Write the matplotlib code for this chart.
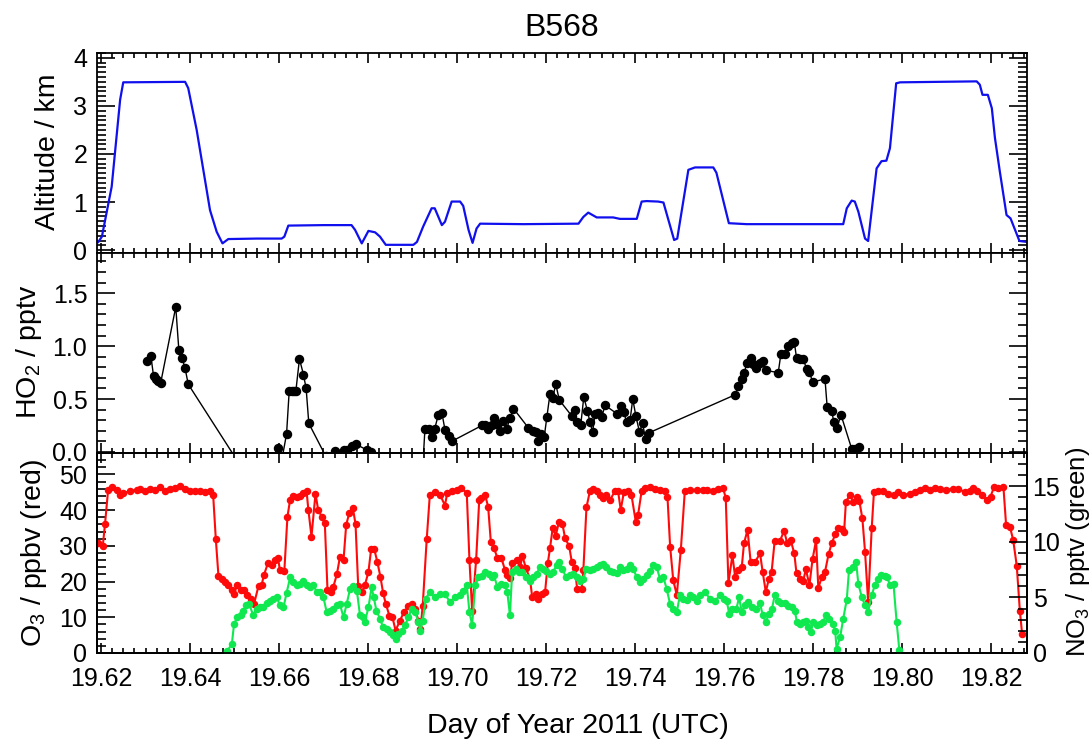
import matplotlib
matplotlib.use("Agg")
import matplotlib.pyplot as plt
from matplotlib.ticker import MultipleLocator, FixedLocator

plt.rcParams['font.family'] = ['Liberation Sans', 'DejaVu Sans']
plt.rcParams['mathtext.fontset'] = 'custom'
plt.rcParams['mathtext.rm'] = 'Liberation Sans'
plt.rcParams['mathtext.it'] = 'Liberation Sans:italic'

# ---------------- data ----------------
alt_day = [19.6194, 19.6202, 19.6224, 19.6243, 19.6250, 19.6389, 19.6396, 19.6415, 19.6445, 19.6460,
           19.6473, 19.6486, 19.6550, 19.6606, 19.6612, 19.6621, 19.6700, 19.6763, 19.6771, 19.6786,
           19.6801, 19.6816, 19.6827, 19.6840, 19.6902, 19.6910, 19.6924, 19.6943, 19.6950, 19.6966,
           19.6973, 19.6988, 19.7007, 19.7014, 19.7026, 19.7035, 19.7044, 19.7052, 19.7149, 19.7273,
           19.7284, 19.7295, 19.7314, 19.7351, 19.7366, 19.7404, 19.7415, 19.7426, 19.7452, 19.7464,
           19.7488, 19.7495, 19.7520, 19.7535, 19.7576, 19.7583, 19.7611, 19.7651, 19.7868, 19.7876,
           19.7887, 19.7894, 19.7902, 19.7917, 19.7924, 19.7943, 19.7954, 19.7965, 19.7973, 19.7987,
           19.7996, 19.8168, 19.8175, 19.8181, 19.8193, 19.8202, 19.8209, 19.8220, 19.8235, 19.8244,
           19.8264, 19.8281]
alt_km = [0.17, 0.28, 1.32, 3.13, 3.49, 3.50, 3.37, 2.50, 0.83, 0.38,
          0.14, 0.23, 0.24, 0.24, 0.28, 0.51, 0.52, 0.52, 0.42, 0.14,
          0.40, 0.37, 0.28, 0.11, 0.11, 0.17, 0.49, 0.87, 0.87, 0.52,
          0.59, 1.01, 1.01, 0.92, 0.42, 0.15, 0.45, 0.55, 0.54, 0.55,
          0.69, 0.78, 0.68, 0.68, 0.65, 0.65, 1.01, 1.02, 1.01, 0.99,
          0.21, 0.24, 1.67, 1.72, 1.72, 1.61, 0.56, 0.54, 0.54, 0.87,
          1.03, 1.01, 0.80, 0.24, 0.19, 1.70, 1.85, 1.86, 2.12, 3.47,
          3.49, 3.51, 3.44, 3.23, 3.23, 2.95, 2.33, 1.63, 0.73, 0.66,
          0.19, 0.17]

ho2_day = [19.6304, 19.6312, 19.6318, 19.6323, 19.6329, 19.6334, 19.6368, 19.6375, 19.6382, 19.6389,
           19.6396, 19.6515, 19.6592, 19.6598, 19.6607, 19.6617, 19.6623, 19.6629, 19.6633, 19.6638,
           19.6646, 19.6655, 19.6661, 19.6667, 19.6705, 19.6726, 19.6745, 19.6752, 19.6763, 19.6772,
           19.6797, 19.6806, 19.6812, 19.6921, 19.6928, 19.6936, 19.6943, 19.6950, 19.6958, 19.6966,
           19.6973, 19.6981, 19.6988, 19.7056, 19.7063, 19.7070, 19.7078, 19.7083, 19.7091, 19.7097,
           19.7104, 19.7112, 19.7119, 19.7127, 19.7160, 19.7170, 19.7178, 19.7183, 19.7188, 19.7196,
           19.7202, 19.7209, 19.7215, 19.7222, 19.7230, 19.7258, 19.7265, 19.7270, 19.7278, 19.7285,
           19.7293, 19.7299, 19.7305, 19.7310, 19.7318, 19.7325, 19.7333, 19.7360, 19.7368, 19.7375,
           19.7381, 19.7389, 19.7395, 19.7402, 19.7410, 19.7417, 19.7424, 19.7431, 19.7625, 19.7632,
           19.7640, 19.7646, 19.7651, 19.7660, 19.7666, 19.7673, 19.7681, 19.7688, 19.7694, 19.7722,
           19.7728, 19.7737, 19.7744, 19.7752, 19.7758, 19.7763, 19.7771, 19.7778, 19.7786, 19.7792,
           19.7799, 19.7827, 19.7832, 19.7842, 19.7847, 19.7854, 19.7863, 19.7887, 19.7894, 19.7903]
ho2_pptv = [0.86, 0.91, 0.72, 0.69, 0.67, 0.65, 1.37, 0.96, 0.89, 0.79,
            0.64, -0.14, -0.40, 0.04, -0.06, 0.17, 0.58, 0.58, 0.58, 0.58,
            0.88, 0.73, 0.60, 0.27, -0.04, 0.01, 0.02, 0.02, 0.06, 0.075,
            0.02, 0.00, -0.30, -0.30, 0.22, 0.22, 0.14, 0.22, 0.35, 0.37,
            0.21, 0.15, 0.10, 0.25, 0.25, 0.22, 0.25, 0.32, 0.26, 0.20,
            0.29, 0.22, 0.32, 0.41, 0.23, 0.20, 0.19, 0.10, 0.17, 0.14,
            0.33, 0.55, 0.51, 0.64, 0.49, 0.34, 0.40, 0.28, 0.25, 0.52,
            0.39, 0.28, 0.19, 0.36, 0.37, 0.33, 0.44, 0.36, 0.43, 0.38,
            0.28, 0.30, 0.50, 0.34, 0.19, 0.27, 0.12, 0.18, 0.54, 0.62,
            0.69, 0.75, 0.84, 0.89, 0.83, 0.79, 0.84, 0.86, 0.77, 0.75,
            0.93, 0.93, 1.00, 1.03, 1.04, 0.89, 0.88, 0.88, 0.78, 0.76,
            0.66, 0.69, 0.42, 0.39, 0.28, 0.23, 0.35, 0.03, 0.03, 0.05]

o3_day = [19.6194, 19.6204, 19.6209, 19.6216, 19.6224, 19.6235, 19.6243, 19.6250, 19.6265, 19.6280,
          19.6288, 19.6299, 19.6310, 19.6321, 19.6333, 19.6344, 19.6355, 19.6366, 19.6378, 19.6389,
          19.6400, 19.6411, 19.6422, 19.6434, 19.6445, 19.6452, 19.6458, 19.6464, 19.6471, 19.6479,
          19.6486, 19.6494, 19.6499, 19.6506, 19.6514, 19.6521, 19.6529, 19.6536, 19.6544, 19.6554,
          19.6561, 19.6566, 19.6575, 19.6584, 19.6591, 19.6598, 19.6602, 19.6612, 19.6619, 19.6625,
          19.6632, 19.6640, 19.6647, 19.6655, 19.6662, 19.6666, 19.6673, 19.6682, 19.6688, 19.6696,
          19.6703, 19.6709, 19.6716, 19.6722, 19.6730, 19.6737, 19.6745, 19.6751, 19.6758, 19.6766,
          19.6772, 19.6778, 19.6786, 19.6793, 19.6801, 19.6807, 19.6814, 19.6821, 19.6828, 19.6834,
          19.6840, 19.6848, 19.6855, 19.6862, 19.6872, 19.6881, 19.6891, 19.6898, 19.6906, 19.6913,
          19.6918, 19.6923, 19.6932, 19.6939, 19.6950, 19.6962, 19.6973, 19.6978, 19.6988, 19.6999,
          19.7010, 19.7022, 19.7028, 19.7034, 19.7043, 19.7050, 19.7055, 19.7063, 19.7070, 19.7076,
          19.7083, 19.7091, 19.7100, 19.7108, 19.7113, 19.7119, 19.7124, 19.7134, 19.7142, 19.7147,
          19.7155, 19.7164, 19.7169, 19.7177, 19.7183, 19.7190, 19.7198, 19.7204, 19.7209, 19.7215,
          19.7222, 19.7229, 19.7237, 19.7243, 19.7252, 19.7258, 19.7265, 19.7270, 19.7280, 19.7284,
          19.7291, 19.7299, 19.7306, 19.7314, 19.7321, 19.7329, 19.7336, 19.7344, 19.7355, 19.7362,
          19.7368, 19.7375, 19.7385, 19.7392, 19.7402, 19.7407, 19.7415, 19.7422, 19.7434, 19.7445,
          19.7456, 19.7467, 19.7473, 19.7479, 19.7486, 19.7494, 19.7503, 19.7512, 19.7524, 19.7539,
          19.7553, 19.7561, 19.7576, 19.7587, 19.7598, 19.7604, 19.7610, 19.7619, 19.7625, 19.7632,
          19.7640, 19.7645, 19.7653, 19.7660, 19.7670, 19.7681, 19.7687, 19.7694, 19.7701, 19.7707,
          19.7714, 19.7726, 19.7735, 19.7742, 19.7750, 19.7758, 19.7763, 19.7771, 19.7778, 19.7784,
          19.7792, 19.7799, 19.7807, 19.7812, 19.7820, 19.7827, 19.7835, 19.7842, 19.7850, 19.7857,
          19.7865, 19.7870, 19.7874, 19.7883, 19.7891, 19.7898, 19.7904, 19.7911, 19.7917, 19.7924,
          19.7932, 19.7937, 19.7947, 19.7958, 19.7969, 19.7981, 19.7992, 19.8003, 19.8018, 19.8029,
          19.8040, 19.8052, 19.8063, 19.8074, 19.8085, 19.8100, 19.8115, 19.8126, 19.8141, 19.8153,
          19.8160, 19.8168, 19.8179, 19.8190, 19.8199, 19.8207, 19.8216, 19.8228, 19.8234, 19.8243,
          19.8250, 19.8258, 19.8265, 19.8270]
o3_ppbv = [30.9, 30.0, 36.1, 45.7, 46.4, 45.7, 44.3, 44.8, 45.3, 45.7,
           46.0, 45.4, 46.0, 45.7, 46.4, 45.5, 46.0, 46.2, 46.7, 46.0,
           45.5, 45.3, 45.4, 45.1, 45.3, 44.3, 31.9, 21.5, 20.8, 19.9,
           19.0, 17.6, 16.6, 19.0, 17.6, 17.6, 16.2, 15.2, 13.8, 18.8,
           19.0, 21.8, 25.1, 24.6, 26.0, 26.5, 23.2, 23.0, 38.2, 42.9,
           44.0, 43.7, 44.1, 44.8, 45.3, 40.1, 32.6, 44.6, 40.1, 38.2,
           36.3, 17.6, 17.1, 18.5, 22.0, 26.9, 26.0, 35.9, 39.2, 40.6,
           36.1, 18.7, 17.1, 19.0, 22.7, 29.0, 29.1, 25.5, 21.3, 16.8,
           13.8, 10.5, 10.0, 6.3, 9.1, 11.5, 13.1, 13.6, 12.4, 9.1,
           6.8, 13.3, 31.9, 44.3, 45.0, 44.3, 41.3, 44.8, 45.3, 45.7,
           46.2, 44.8, 26.0, 11.9, 26.0, 42.9, 43.4, 44.3, 41.0, 31.2,
           29.5, 26.5, 26.5, 23.2, 21.8, 21.0, 25.1, 26.0, 24.1, 27.2,
           23.7, 20.8, 15.7, 16.6, 15.2, 16.6, 17.1, 25.1, 29.3, 34.9,
           32.9, 36.6, 36.1, 32.1, 30.0, 25.5, 23.8, 18.0, 18.0, 23.2,
           40.8, 45.5, 46.0, 45.3, 44.3, 43.4, 44.3, 42.9, 45.3, 45.3,
           40.1, 45.0, 45.4, 44.3, 36.6, 38.7, 45.4, 46.2, 46.4, 46.0,
           45.7, 45.4, 43.8, 29.8, 20.4, 16.2, 28.8, 45.3, 45.7, 45.7,
           45.7, 45.7, 45.5, 46.0, 46.2, 43.4, 19.6, 27.4, 21.3, 23.2,
           24.1, 30.7, 34.5, 25.4, 25.5, 27.9, 22.7, 17.1, 20.8, 22.7,
           31.4, 31.4, 34.2, 30.9, 31.6, 27.9, 22.3, 20.8, 20.1, 23.5,
           19.0, 26.2, 31.6, 18.2, 21.3, 22.7, 27.6, 30.7, 33.2, 34.9,
           34.6, 34.0, 42.3, 44.3, 42.3, 43.6, 42.7, 37.7, 28.4, 14.3,
           34.9, 45.0, 45.3, 45.5, 44.6, 44.3, 45.0, 44.3, 44.6, 45.1,
           45.7, 46.2, 45.7, 46.2, 46.0, 45.7, 46.0, 46.0, 45.1, 45.5,
           46.2, 45.3, 44.3, 42.9, 43.8, 46.5, 46.2, 46.5, 35.9, 35.2,
           31.6, 24.4, 11.7, 5.4]

no3_day = [19.6484, 19.6494, 19.6499, 19.6506, 19.6514, 19.6520, 19.6526, 19.6533, 19.6542, 19.6550,
           19.6557, 19.6565, 19.6572, 19.6580, 19.6587, 19.6595, 19.6602, 19.6610, 19.6617, 19.6625,
           19.6632, 19.6640, 19.6647, 19.6655, 19.6662, 19.6670, 19.6677, 19.6685, 19.6692, 19.6700,
           19.6707, 19.6715, 19.6722, 19.6730, 19.6737, 19.6745, 19.6752, 19.6760, 19.6767, 19.6775,
           19.6782, 19.6789, 19.6793, 19.6801, 19.6808, 19.6813, 19.6819, 19.6827, 19.6834, 19.6842,
           19.6849, 19.6857, 19.6863, 19.6868, 19.6876, 19.6883, 19.6891, 19.6898, 19.6906, 19.6913,
           19.6918, 19.6923, 19.6930, 19.6939, 19.6950, 19.6962, 19.6973, 19.6984, 19.6995, 19.7007,
           19.7014, 19.7022, 19.7028, 19.7034, 19.7041, 19.7048, 19.7056, 19.7063, 19.7071, 19.7078,
           19.7083, 19.7091, 19.7100, 19.7108, 19.7113, 19.7119, 19.7124, 19.7132, 19.7139, 19.7147,
           19.7155, 19.7164, 19.7171, 19.7179, 19.7186, 19.7194, 19.7201, 19.7209, 19.7216, 19.7224,
           19.7230, 19.7237, 19.7245, 19.7254, 19.7261, 19.7269, 19.7276, 19.7284, 19.7291, 19.7299,
           19.7306, 19.7314, 19.7321, 19.7329, 19.7336, 19.7344, 19.7351, 19.7359, 19.7366, 19.7374,
           19.7381, 19.7389, 19.7396, 19.7404, 19.7411, 19.7419, 19.7426, 19.7434, 19.7441, 19.7449,
           19.7456, 19.7464, 19.7471, 19.7479, 19.7486, 19.7494, 19.7501, 19.7509, 19.7516, 19.7524,
           19.7531, 19.7539, 19.7546, 19.7557, 19.7568, 19.7580, 19.7591, 19.7600, 19.7606, 19.7612,
           19.7619, 19.7628, 19.7634, 19.7640, 19.7647, 19.7655, 19.7662, 19.7673, 19.7681, 19.7687,
           19.7694, 19.7701, 19.7708, 19.7714, 19.7722, 19.7729, 19.7737, 19.7744, 19.7752, 19.7759,
           19.7764, 19.7771, 19.7778, 19.7784, 19.7789, 19.7795, 19.7801, 19.7808, 19.7816, 19.7823,
           19.7829, 19.7837, 19.7844, 19.7850, 19.7853, 19.7861, 19.7868, 19.7876, 19.7881, 19.7889,
           19.7897, 19.7902, 19.7910, 19.7917, 19.7924, 19.7932, 19.7939, 19.7947, 19.7954, 19.7962,
           19.7967, 19.7973, 19.7981, 19.7988, 19.7994]
no3_pptv = [0.2, 0.8, 2.6, 3.2, 3.4, 3.8, 4.3, 4.4, 3.4, 4.0,
            4.1, 4.1, 4.5, 4.7, 4.9, 5.0, 4.3, 4.1, 5.4, 6.8,
            6.4, 6.1, 6.2, 6.5, 6.1, 5.9, 6.1, 5.5, 5.5, 5.0,
            3.7, 3.8, 4.0, 4.3, 4.4, 3.2, 4.4, 5.8, 6.0, 5.6,
            3.4, 3.2, 2.8, 4.1, 5.9, 5.0, 3.8, 3.1, 2.3, 2.2,
            1.9, 1.6, 1.3, 1.7, 2.0, 2.5, 3.2, 4.0, 3.7, 2.8,
            2.0, 2.9, 4.9, 5.5, 5.0, 5.3, 5.3, 4.6, 5.0, 5.2,
            5.6, 6.1, 3.7, 2.5, 6.1, 6.8, 6.9, 7.3, 7.1, 6.8,
            7.0, 5.9, 6.2, 6.1, 5.5, 3.4, 7.3, 7.6, 7.3, 7.3,
            6.8, 6.5, 6.8, 7.1, 7.7, 7.6, 7.4, 7.1, 7.3, 7.9,
            8.2, 7.6, 6.8, 7.0, 7.1, 6.8, 6.5, 6.7, 7.6, 7.5,
            7.6, 7.7, 7.9, 8.0, 7.7, 7.4, 7.3, 7.2, 7.7, 7.5,
            7.6, 7.9, 7.6, 6.8, 6.4, 6.7, 7.0, 7.4, 7.9, 7.7,
            6.7, 6.8, 5.8, 4.4, 4.0, 3.7, 5.2, 4.9, 4.8, 5.2,
            5.0, 4.7, 5.2, 5.5, 4.9, 4.7, 5.2, 4.9, 4.7, 3.5,
            4.0, 4.0, 5.0, 3.7, 4.3, 4.6, 4.1, 4.0, 4.5, 3.4,
            2.8, 3.5, 4.0, 5.2, 4.7, 4.5, 4.5, 4.2, 4.1, 3.8,
            2.8, 2.6, 2.8, 2.9, 2.3, 1.9, 2.8, 2.5, 2.6, 2.8,
            3.4, 3.1, 2.6, 2.0, 0.4, 1.4, 3.1, 4.8, 7.5, 7.7,
            8.2, 6.2, 5.0, 4.3, 3.7, 5.2, 6.1, 6.7, 7.0, 6.9,
            6.8, 6.1, 6.2, 2.8, 0.3]

x_ticks = [19.62, 19.64, 19.66, 19.68, 19.70, 19.72, 19.74, 19.76, 19.78, 19.80, 19.82]
x_labels = ['19.62', '19.64', '19.66', '19.68', '19.70', '19.72', '19.74', '19.76', '19.78', '19.80', '19.82']

# ---------------- figure ----------------
W, H = 1092, 742
fig = plt.figure(figsize=(W / 100, H / 100), dpi=100)

def frac_rect(x0, y0, x1, y1):
    return [x0 / W, 1 - y1 / H, (x1 - x0) / W, (y1 - y0) / H]

ax1 = fig.add_axes(frac_rect(97, 53, 1027, 253))
ax2 = fig.add_axes(frac_rect(97, 253, 1027, 453))
ax3 = fig.add_axes(frac_rect(97, 453, 1027, 653))
ax3b = ax3.twinx()

TICK_FS = 18
LAB_FS = 20.5
XLIM = (19.6191, 19.8281)

for ax in (ax1, ax2, ax3, ax3b):
    ax.set_xlim(*XLIM)
    for s in ax.spines.values():
        s.set_linewidth(1.3)

for ax in (ax1, ax2, ax3):
    ax.xaxis.set_major_locator(FixedLocator(x_ticks))
    ax.xaxis.set_minor_locator(MultipleLocator(0.0025))
    ax.tick_params(axis='x', which='both', direction='in', top=True, bottom=True)
    ax.tick_params(axis='x', which='major', length=7, width=1.2)
    ax.tick_params(axis='x', which='minor', length=3.5, width=1.2)
    ax.tick_params(axis='y', which='both', direction='in', width=1.2, labelsize=TICK_FS, pad=7)
    ax.tick_params(axis='y', which='major', length=13)
    ax.tick_params(axis='y', which='minor', length=6.5)

for ax in (ax1, ax2):
    ax.tick_params(axis='y', which='both', right=True, left=True)
    ax.tick_params(axis='x', labelbottom=False)

# top panel
ax1.plot(alt_day, alt_km, color='#1010ee', lw=1.6)
ax1.set_ylim(-0.06, 4.10)
ax1.yaxis.set_major_locator(MultipleLocator(1))
ax1.yaxis.set_minor_locator(MultipleLocator(0.1))

# middle panel
ax2.plot(ho2_day, ho2_pptv, color='black', lw=1.0, marker='o', ms=5.8)
ax2.set_ylim(-0.01, 1.88)
ax2.yaxis.set_major_locator(FixedLocator([0.0, 0.5, 1.0, 1.5]))
ax2.yaxis.set_minor_locator(MultipleLocator(0.1))
ax2.set_yticklabels(['0.0', '0.5', '1.0', '1.5'])

# bottom panel
ax3.plot(o3_day, o3_ppbv, color='#ff0a0a', lw=1.5, marker='o', ms=4.4)
ax3.set_ylim(0, 56)
ax3.yaxis.set_major_locator(MultipleLocator(10))
ax3.yaxis.set_minor_locator(MultipleLocator(2))
ax3.tick_params(axis='y', which='both', right=False, left=True)
ax3.set_xticks(x_ticks)
ax3.set_xticklabels(x_labels)
ax3.tick_params(axis='x', which='major', labelsize=TICK_FS, pad=10)

ax3b.plot(no3_day, no3_pptv, color='#10e850', lw=1.5, marker='o', ms=4.4)
ax3b.set_ylim(0, 18)
ax3b.yaxis.set_major_locator(MultipleLocator(5))
ax3b.yaxis.set_minor_locator(MultipleLocator(1))
ax3b.tick_params(axis='y', which='both', direction='in', width=1.2, labelsize=TICK_FS, pad=4,
                 right=True, left=False)
ax3b.tick_params(axis='y', which='major', length=13)
ax3b.tick_params(axis='y', which='minor', length=6.5)
ax3b.tick_params(axis='x', which='both', top=False, bottom=False)

# labels
fig.text(562 / W, 1 - 28 / H, 'B568', ha='center', va='center', fontsize=23)
fig.text(578 / W, 1 - 726 / H, 'Day of Year 2011 (UTC)', ha='center', va='center', fontsize=LAB_FS)
fig.text(48 / W, 1 - 152 / H, 'Altitude / km', rotation=90, ha='center', va='center', fontsize=LAB_FS)
fig.text(29 / W, 1 - 352 / H, r'HO$_2$ / pptv', rotation=90, ha='center', va='center', fontsize=LAB_FS)
fig.text(34 / W, 1 - 553 / H, r'O$_3$ / ppbv (red)', rotation=90, ha='center', va='center', fontsize=LAB_FS)
fig.text(1077.5 / W, 1 - 552 / H, r'NO$_3$ / pptv (green)', rotation=90, ha='center', va='center', fontsize=18.5)

fig.savefig('out.png', dpi=100)
